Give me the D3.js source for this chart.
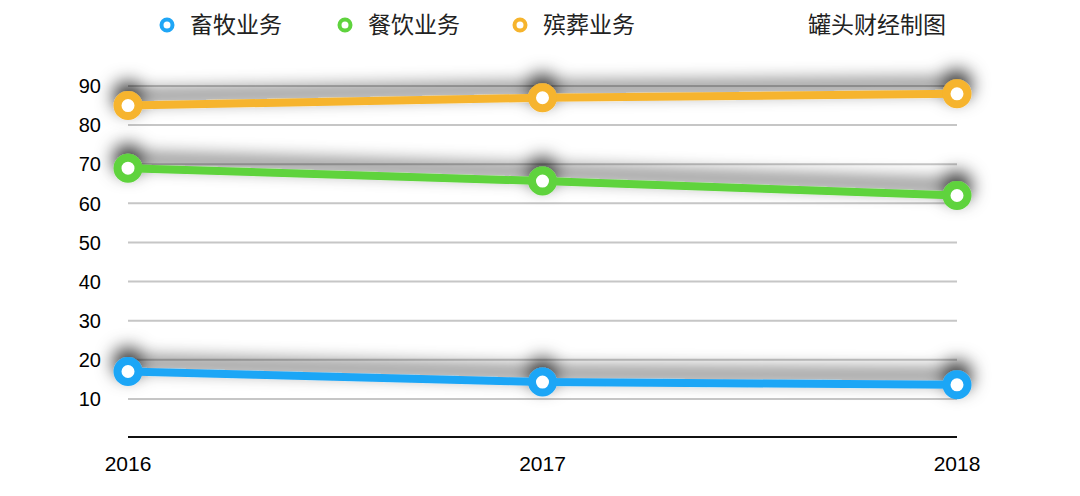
<!DOCTYPE html>
<html>
<head>
<meta charset="utf-8">
<script src="https://cdn.jsdelivr.net/npm/d3@7"></script>
<style>
  body { margin: 0; background: #fff; }
  svg { display: block; font-family: "Noto Sans CJK SC", "Liberation Sans", sans-serif; }
</style>
</head>
<body>
<svg id="chart"></svg>
<script>
// chart data
var years = ["2016", "2017", "2018"];
var seriesNames = ["畜牧业务", "餐饮业务", "殡葬业务"];
var seriesColors = ["#1fa6f6", "#5fd33e", "#f6b42d"];
var livestock = [17, 14.3, 13.6];
var catering = [69, 65.7, 62];
var funeral = [85, 87, 88];
var yTicks = [10, 20, 30, 40, 50, 60, 70, 80, 90];
var credit = "罐头财经制图";

var W = 1080, H = 496;
var svg = d3.select("#chart").attr("width", W).attr("height", H);

var x = d3.scalePoint().domain(years).range([128, 957]);
var y = d3.scaleLinear().domain([0, 90]).range([438, 86]);

var defs = svg.append("defs");
defs.append("filter")
  .attr("id", "shadow")
  .attr("x", "-20%").attr("y", "-300%")
  .attr("width", "140%").attr("height", "700%")
  .append("feDropShadow")
  .attr("dx", 0).attr("dy", -9)
  .attr("stdDeviation", 9)
  .attr("flood-color", "#000")
  .attr("flood-opacity", 0.85);

// gridlines
svg.append("g").selectAll("line")
  .data(yTicks).enter().append("line")
  .attr("x1", x("2016")).attr("x2", x("2018"))
  .attr("y1", function (d) { return y(d); })
  .attr("y2", function (d) { return y(d); })
  .attr("stroke", "#c6c6c6").attr("stroke-width", 2);

// y tick labels
svg.append("g").selectAll("text")
  .data(yTicks).enter().append("text")
  .attr("x", 101).attr("y", function (d) { return y(d); })
  .attr("dy", "0.36em")
  .attr("text-anchor", "end")
  .attr("font-family", "Liberation Sans, sans-serif")
  .attr("font-size", 20).attr("fill", "#000")
  .text(function (d) { return d; });

// baseline
svg.append("line")
  .attr("x1", x("2016")).attr("x2", x("2018"))
  .attr("y1", 437).attr("y2", 437)
  .attr("stroke", "#111").attr("stroke-width", 2);

// x labels
svg.append("g").selectAll("text")
  .data(years).enter().append("text")
  .attr("x", function (d) { return x(d); })
  .attr("y", 471)
  .attr("text-anchor", "middle")
  .attr("font-family", "Liberation Sans, sans-serif")
  .attr("font-size", 21).attr("fill", "#000")
  .text(function (d) { return d; });

// series
var allSeries = [livestock, catering, funeral];
var line = d3.line()
  .x(function (d, i) { return x(years[i]); })
  .y(function (d) { return y(d); });

allSeries.forEach(function (vals, k) {
  var g = svg.append("g").attr("filter", "url(#shadow)");
  g.append("path")
    .attr("d", line(vals))
    .attr("fill", "none")
    .attr("stroke", seriesColors[k])
    .attr("stroke-width", 8)
    .attr("stroke-linejoin", "round");
  g.selectAll("circle")
    .data(vals).enter().append("circle")
    .attr("cx", function (d, i) { return x(years[i]); })
    .attr("cy", function (d) { return y(d); })
    .attr("r", 10.5)
    .attr("fill", "#fff")
    .attr("stroke", seriesColors[k])
    .attr("stroke-width", 8);
});

// legend
var legendX = [167, 345, 520];
var legend = svg.append("g");
seriesNames.forEach(function (name, k) {
  legend.append("circle")
    .attr("cx", legendX[k]).attr("cy", 25)
    .attr("r", 5.5).attr("fill", "#fff")
    .attr("stroke", seriesColors[k]).attr("stroke-width", 4);
  legend.append("text")
    .attr("x", legendX[k] + 23).attr("y", 25)
    .attr("dy", "0.35em")
    .attr("font-size", 23).attr("fill", "#222")
    .text(name);
});

svg.append("text")
  .attr("x", 808).attr("y", 25).attr("dy", "0.35em")
  .attr("font-size", 23).attr("fill", "#222")
  .text(credit);
</script>
</body>
</html>
